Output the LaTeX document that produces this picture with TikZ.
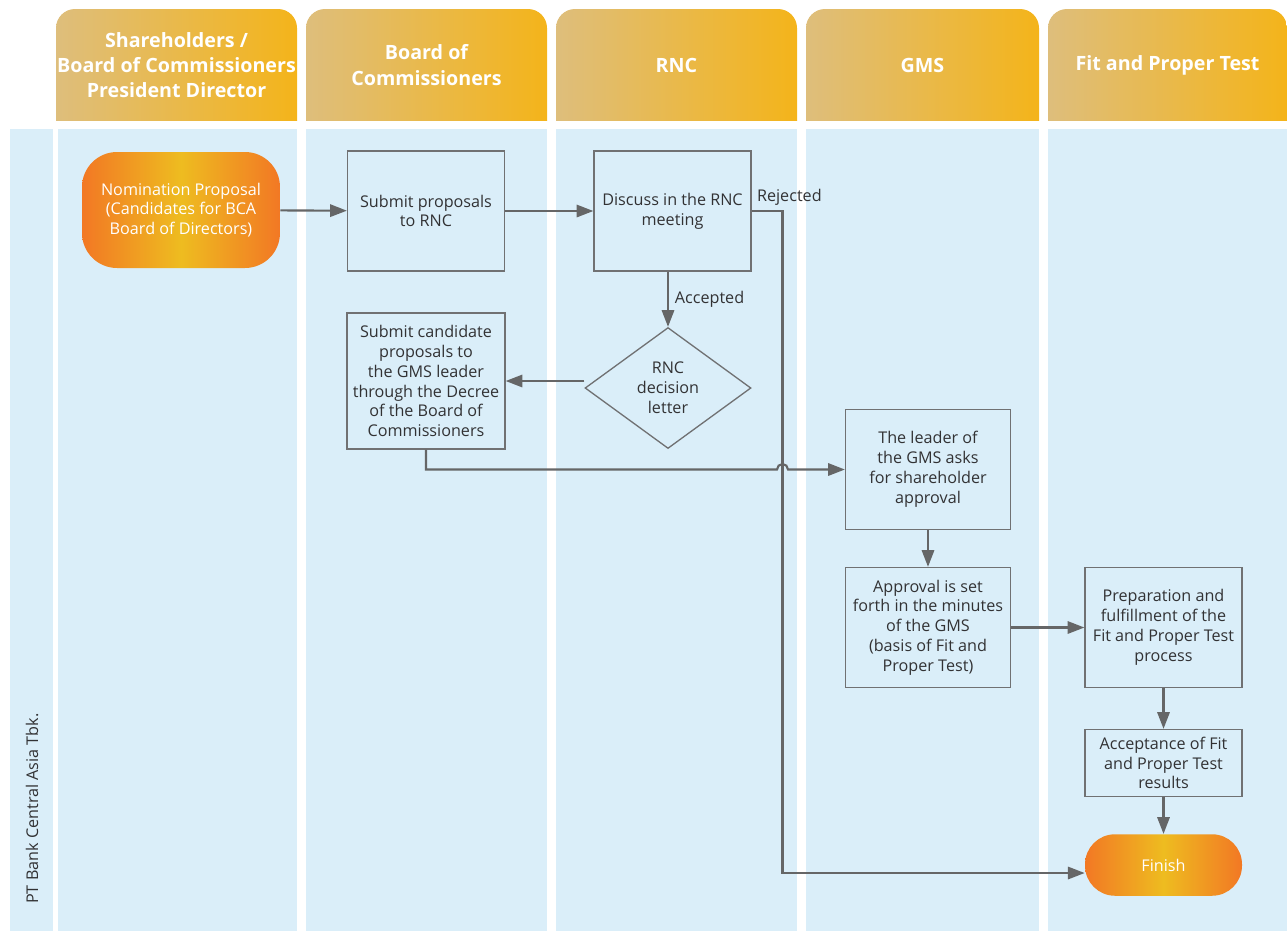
\documentclass[tikz,border=0pt]{standalone}
\usepackage{fontspec}
\setmainfont{Open Sans}
\usetikzlibrary{shapes.geometric,arrows.meta,calc}
\definecolor{lane}{RGB}{218,238,249}
\definecolor{edge}{RGB}{112,113,115}
\definecolor{txt}{RGB}{50,50,52}
\definecolor{ora}{RGB}{242,120,36}
\definecolor{yel}{RGB}{238,188,32}
\definecolor{hdl}{RGB}{222,190,124}
\definecolor{hdr}{RGB}{244,180,26}
\tikzset{
  box/.style={draw=edge, line width=0.75pt, fill=lane, align=center, inner sep=1pt,
    text=txt, font=\fontsize{9.2}{11.3}\selectfont},
  dia/.style={box, diamond, aspect=1.36},
  term/.style={left color=ora, right color=ora, middle color=yel, align=center,
    text=white, inner sep=1pt, font=\fontsize{9.2}{11.3}\selectfont},
  head/.style={text=white, align=center, font=\bfseries\fontsize{11.2}{14.4}\selectfont},
  lbl/.style={text=txt, font=\fontsize{9.2}{11.3}\selectfont},
  arr/.style={draw=edge!90!black, line width=1.2pt, -{Triangle[length=9.5pt,width=7pt]}},
}
\begin{document}
\begin{tikzpicture}[x=0.02cm, y=-0.02cm]
  \useasboundingbox (0,0) rectangle (1287,931);
  \foreach \a/\b in {10/53,58/297,306/547,556/797,806/1039,1048/1287}
    \fill[lane] (\a,129) rectangle (\b,931);
  \foreach \a/\b/\t in {56/297/{Shareholders /\\Board of Commissioners\\President Director},
      306/547/{Board of\\Commissioners}, 556/797/RNC, 806/1039/GMS, 1048/1287/Fit and Proper Test}{
    \begin{scope}
      \clip (\a,9) rectangle (\b,120);
      \shade[left color=hdl, right color=hdr, rounded corners=0.38cm] (\a,9) rectangle (\b,160);
    \end{scope}
    \node[head] (H\a) at ({(\a+\b)/2},65) {\t};
  }
  \node[lbl, rotate=90, anchor=west] (PT) at (32,910) {PT Bank Central Asia Tbk.};

  \node[term, minimum width=3.96cm, minimum height=2.32cm, rounded corners=0.7cm] (NP) at (181,210)
    {Nomination Proposal\\(Candidates for BCA\\Board of Directors)};
  \node[box, minimum width=3.14cm, minimum height=2.4cm] (SP) at (426,211) {Submit proposals\\to RNC};
  \node[box, minimum width=3.14cm, minimum height=2.4cm] (DM) at (672.5,211) {Discuss in the RNC\\meeting};
  \node[dia, minimum width=3.32cm, minimum height=2.42cm] (DL) at (668,388) {RNC\\decision\\letter};
  \node[box, minimum width=3.16cm, minimum height=2.72cm] (SC) at (426,381)
    {Submit candidate\\proposals to\\the GMS leader\\through the Decree\\of the Board of\\Commissioners};
  \node[box, minimum width=3.3cm, minimum height=2.4cm] (LD) at (928,469.5)
    {The leader of\\the GMS asks\\for shareholder\\approval};
  \node[box, minimum width=3.3cm, minimum height=2.4cm] (AP) at (928,627.5)
    {Approval is set\\forth in the minutes\\of the GMS\\(basis of Fit and\\Proper Test)};
  \node[box, minimum width=3.14cm, minimum height=2.4cm] (PR) at (1163.5,627.5)
    {Preparation and\\fulfillment of the\\Fit and Proper Test\\process};
  \node[box, minimum width=3.14cm, minimum height=1.34cm] (AC) at (1163.5,763)
    {Acceptance of Fit\\and Proper Test\\results};
  \node[term, minimum width=3.14cm, minimum height=1.23cm, rounded corners=0.6cm] (FN) at (1163.5,865) {Finish};
  \coordinate (RJ) at (782.5,873);

  \draw[arr] (NP) -- (SP);
  \draw[arr] (SP) -- (DM);
  \draw[arr] (DL.north |- DM.south) -- (DL.north) node[lbl, midway, right] {Accepted};
  \draw[arr] (DL.west |- SC.east) -- (SC.east);
  \draw[arr] (DM.east) node[lbl, above right, inner sep=2.5pt] {Rejected} -| (RJ) -- (RJ -| FN.west);
  \draw[arr] (SC.south) |- ($(RJ |- LD.west)+(-5.5,0)$) arc[start angle=180, end angle=0, radius=0.11cm] -- (LD.west);
  \draw[arr] (LD) -- (AP);
  \draw[arr] (AP) -- (PR);
  \draw[arr] (PR) -- (AC);
  \draw[arr] (AC) -- (FN);
\end{tikzpicture}
\end{document}
